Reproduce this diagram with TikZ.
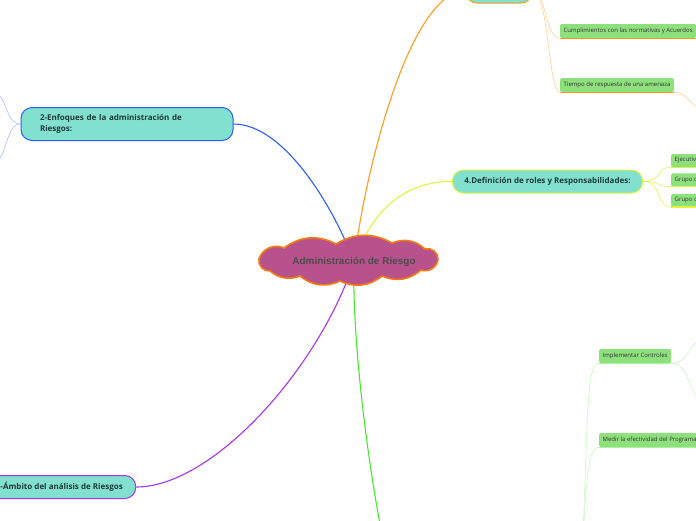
\documentclass[tikz,border=0pt]{standalone}
\usepackage{fontspec}
\setmainfont{Open Sans}
\newfontfamily\cloudfont{Liberation Sans}
\usetikzlibrary{positioning, calc, backgrounds}
\definecolor{topicfill}{HTML}{82E0CE}
\definecolor{topictext}{HTML}{1E3A38}
\definecolor{leaffill}{HTML}{8EE07C}
\definecolor{cloudfill}{HTML}{B8528C}
\definecolor{cloudline}{HTML}{F57A10}
\definecolor{blueline}{HTML}{2B5CFF}
\definecolor{orangeline}{HTML}{FF9C1C}
\definecolor{limeline}{HTML}{DDF53C}
\definecolor{purpleline}{HTML}{A633F2}
\definecolor{greenline}{HTML}{45E82B}

\begin{document}
\begin{tikzpicture}[x=1pt, y=-1pt,
    topic/.style={rectangle, rounded corners=11pt, fill=topicfill, line width=1pt, text=topictext,
        font=\fontsize{8}{11.5}\selectfont\bfseries, minimum height=23pt, inner xsep=12pt},
    leaf/.style={rectangle, rounded corners=1.5pt, fill=leaffill, text=black!80,
        font=\fontsize{6}{7}\selectfont, minimum height=14pt, inner xsep=3.5pt, anchor=west},
    branch/.style={line width=1.1pt},
    twig/.style={line width=0.5pt}]
\useasboundingbox (0,0) rectangle (696,520);
\clip (0,0) rectangle (696,520);

% centro
\draw[fill=cloudfill, draw=cloudline, line width=1.6pt]
    (259,259) to[bend left=50] (284,248) to[bend left=32] (336,244) to[bend left=30] (392,243)
    to[bend left=32] (425,249) to[bend left=55] (438,259) to[bend left=55] (421,270)
    to[bend left=32] (382,276) to[bend left=32] (340,281) to[bend left=32] (300,276)
    to[bend left=30] (270,271) to[bend left=55] cycle;
\node[text=black!70, font=\cloudfont\fontsize{10}{11}\selectfont\bfseries]
    (riesgo) at (354,262) {Administración de Riesgo};

% temas
\node[topic, draw=orangeline, minimum width=66pt, minimum height=24pt] (metricas) at (499,-9) {};
\node[topic, draw=blueline, minimum height=33pt, inner xsep=19pt, text width=174pt, align=left]
    (enfoques) at (127,124) {2-Enfoques de la administración de\\Riesgos:};
\node[topic, draw=limeline] (roles) at (547.5,181.5) {4.Definición de roles y Responsabilidades:};
\node[topic, draw=purpleline, anchor=west, inner xsep=13pt] (ambito) at (-13,487) {-Ámbito del análisis de Riesgos};

% hojas
\node[leaf] (cumple) at (560,31) {Cumplimientos con las normativas y Acuerdos};
\node[leaf] (tiempo) at (560,85) {Tiempo de respuesta de una amenaza};
\node[leaf, minimum height=13pt] (ejecutivos) at (671,160.5) {Ejecutivos};
\node[leaf, minimum height=13pt, below=6pt of ejecutivos.south west, anchor=north west] (grupoa) {Grupo de};
\node[leaf, minimum height=13pt, below=7pt of grupoa.south west, anchor=north west] (grupob) {Grupo de};
\node[leaf] (implementar) at (599,356) {Implementar Controles};
\node[leaf] (medir) at (599,440) {Medir la efectividad del Programa};

\foreach \n/\c in {cumple/orangeline, tiempo/orangeline, ejecutivos/limeline, grupoa/limeline,
    grupob/limeline, implementar/greenline!45, medir/greenline!45}
  \draw[\c, line width=1.2pt] (\n.south west) -- (\n.south east);

% extremos fuera del lienzo
\coordinate (control) at (384,545);
\coordinate (plan) at (582,560);
\coordinate (tiempofin) at (706,110);
\coordinate (enfoquesa) at (-8,90);
\coordinate (enfoquesb) at (-8,165);
\coordinate (implementara) at (706,340);
\coordinate (implementarb) at (706,400);

\begin{scope}[on background layer]
\draw[branch, blueline] (riesgo.center) .. controls (335,210) and (285,124) .. (enfoques.east);
\draw[branch, orangeline] (riesgo.center) .. controls (365,170) and (410,-9) .. (metricas.west);
\draw[branch, limeline] (riesgo.center) .. controls (370,215) and (400,181.5) .. (roles.west);
\draw[branch, purpleline] (riesgo.center) .. controls (318,370) and (212,487) .. (ambito.east);
\draw[branch, greenline] (riesgo.center) .. controls (352,330) and (365,450) .. (control);

\draw[twig, orangeline!55] (metricas.east) .. controls (546,-9) and (545,38) .. (cumple.south west);
\draw[twig, orangeline!55] (metricas.east) .. controls (549,-9) and (548,92) .. (tiempo.south west);
\draw[twig, orangeline!55] (tiempo.south east) .. controls (688,92) and (690,108) .. (tiempofin);
\draw[twig, blueline!45] (enfoques.west) .. controls (5,124) and (8,95) .. (enfoquesa);
\draw[twig, blueline!45] (enfoques.west) .. controls (5,124) and (8,160) .. (enfoquesb);
\foreach \n in {ejecutivos, grupoa, grupob}
  \draw[twig, limeline] (roles.east) .. controls (662,181.5) and (656,0|-\n.south west) .. (\n.south west);
\draw[twig, greenline!35] (plan) .. controls (588,420) and (586,363) .. (implementar.south west);
\draw[twig, greenline!35] (plan) .. controls (586,480) and (588,447) .. (medir.south west);
\draw[twig, greenline!35] (implementar.south east) .. controls (692,363) and (686,340) .. (implementara);
\draw[twig, greenline!35] (implementar.south east) .. controls (692,363) and (686,400) .. (implementarb);
\end{scope}
\end{tikzpicture}
\end{document}
